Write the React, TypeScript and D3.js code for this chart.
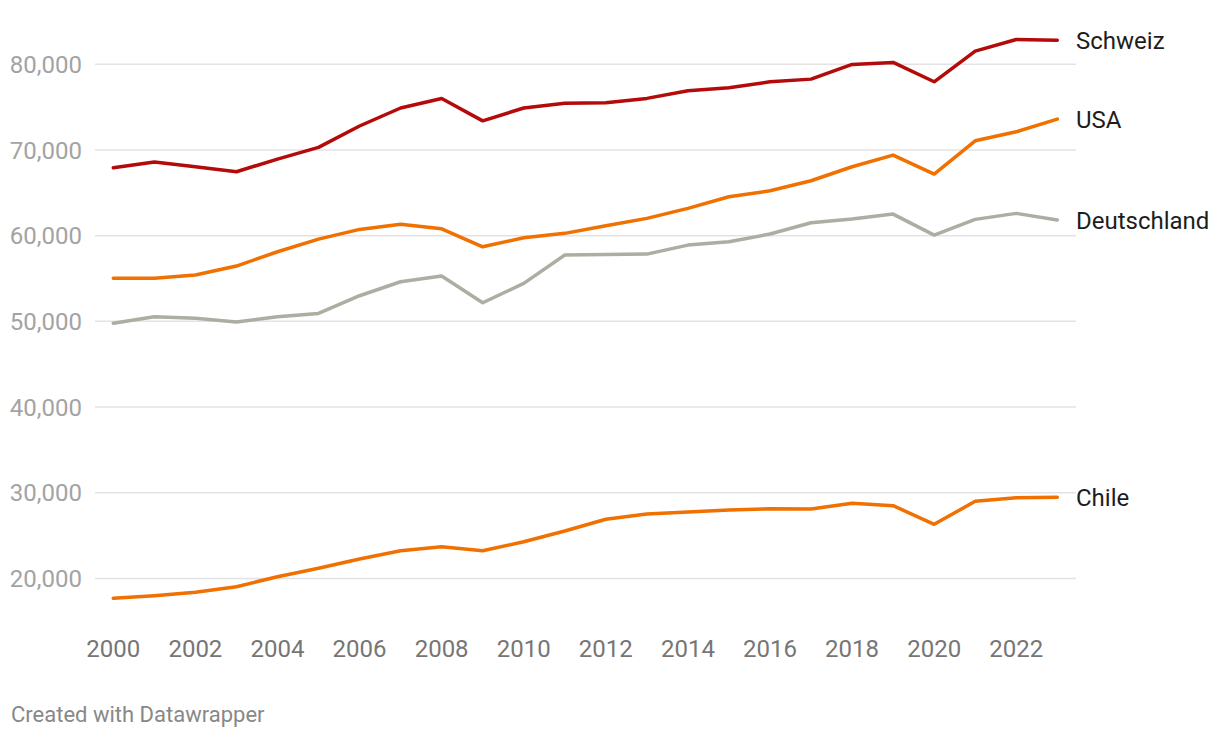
import React from "react";
import * as d3 from "d3";

const years = d3.range(2000, 2024);
const schweiz = [67920, 68590, 68040, 67460, 68940, 70300, 72800, 74900, 76000, 73400, 74900, 75450, 75500, 76020, 76910, 77260, 77960, 78270, 79990, 80220, 77960, 81540, 82900, 82800];
const usa = [55020, 55020, 55400, 56450, 58120, 59600, 60730, 61320, 60800, 58700, 59750, 60270, 61150, 62020, 63190, 64540, 65240, 66410, 68040, 69400, 67190, 71070, 72120, 73600];
const deutschland = [49770, 50540, 50350, 49920, 50540, 50930, 52990, 54620, 55290, 52170, 54430, 57740, 57800, 57850, 58900, 59290, 60190, 61510, 61940, 62520, 60070, 61900, 62600, 61820];
const chile = [17680, 17980, 18380, 19030, 20200, 21180, 22260, 23230, 23700, 23230, 24280, 25530, 26900, 27510, 27750, 27980, 28130, 28100, 28760, 28490, 26310, 29000, 29420, 29460];
const yTicks = [20000, 30000, 40000, 50000, 60000, 70000, 80000];
const xTicks = d3.range(2000, 2023, 2);

const series = [
  { name: "Schweiz", values: schweiz, color: "#b50a0a" },
  { name: "USA", values: usa, color: "#f07000" },
  { name: "Deutschland", values: deutschland, color: "#adada1" },
  { name: "Chile", values: chile, color: "#f07000" },
];

export default function App() {
  const W = 1220, H = 738;
  const x = d3.scaleLinear().domain([2000, 2023]).range([113.3, 1057.3]);
  const y = d3.scaleLinear().domain([20000, 80000]).range([578.4, 64.3]);
  const line = d3.line<number>().x((_, i) => x(years[i])).y((d) => y(d));
  const fmt = d3.format(",");
  const font = "Roboto, 'Noto Sans', sans-serif";
  return (
    <svg width={W} height={H} style={{ position: "absolute", left: 0, top: 0, background: "#fff" }} fontFamily={font}>
      {yTicks.map((t) => (
        <g key={t}>
          <line x1={95} x2={1076} y1={y(t)} y2={y(t)} stroke="#e3e3e3" strokeWidth={1.5} />
          <text x={82} y={y(t) + 8.7} textAnchor="end" fontSize={24} fill="#a3a3a3">{fmt(t)}</text>
        </g>
      ))}
      {xTicks.map((t) => (
        <text key={t} x={x(t)} y={656.5} textAnchor="middle" fontSize={24} fill="#767676">{t}</text>
      ))}
      {series.map((s) => (
        <g key={s.name}>
          <path d={line(s.values) || ""} fill="none" stroke={s.color} strokeWidth={3.5} strokeLinejoin="round" strokeLinecap="round" />
          <text x={1076} y={y(s.values[s.values.length - 1]) + 8.5} fontSize={24} fill="#1d1d1d">{s.name}</text>
        </g>
      ))}
      <text x={11} y={722} fontSize={22} fill="#888888">Created with Datawrapper</text>
    </svg>
  );
}
